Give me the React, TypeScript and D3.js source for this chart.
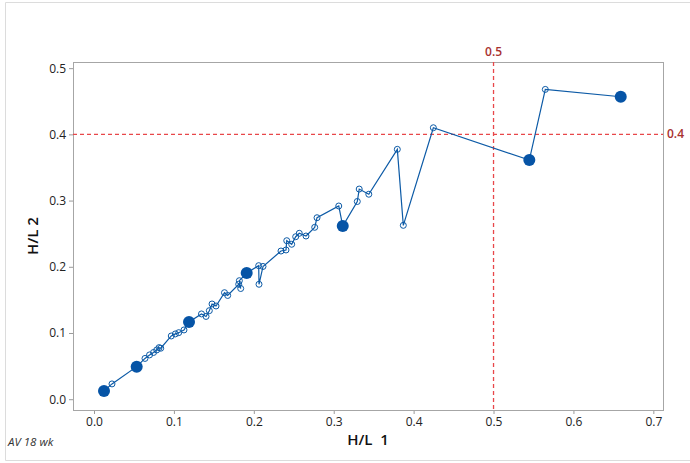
import React, { useEffect, useRef } from 'react';
import * as d3 from 'd3';

// H/L 1 vs H/L 2, in time order
const hl1 = [0.0125, 0.0225, 0.0534, 0.0638, 0.0695, 0.0745, 0.0785, 0.0814, 0.0835, 0.0967,
  0.1018, 0.106, 0.1126, 0.1189, 0.1345, 0.1402, 0.1443, 0.1477, 0.1527, 0.1633,
  0.1673, 0.1811, 0.1836, 0.1819, 0.1911, 0.2061, 0.2065, 0.2115, 0.234, 0.2403,
  0.2412, 0.2474, 0.2524, 0.2569, 0.2653, 0.2762, 0.2791, 0.3063, 0.3113, 0.3295,
  0.3319, 0.3439, 0.3796, 0.3871, 0.4247, 0.5448, 0.5648, 0.6592];
const hl2 = [0.0125, 0.0231, 0.0492, 0.0616, 0.0669, 0.0706, 0.0744, 0.0779, 0.077, 0.0955,
  0.0986, 0.1005, 0.1046, 0.1167, 0.1288, 0.125, 0.1337, 0.1438, 0.1408, 0.1609,
  0.1567, 0.1736, 0.1672, 0.179, 0.1906, 0.2017, 0.1736, 0.2005, 0.2238, 0.2254,
  0.2394, 0.234, 0.2454, 0.2506, 0.2465, 0.2596, 0.2741, 0.2918, 0.2616, 0.2986,
  0.3174, 0.3096, 0.3774, 0.2626, 0.41, 0.3612, 0.4679, 0.4568];
// points drawn as big filled dots
const bigIdx = [0, 2, 13, 24, 38, 45, 47];
const xTicks = [0, 0.1, 0.2, 0.3, 0.4, 0.5, 0.6, 0.7];
const yTicks = [0, 0.1, 0.2, 0.3, 0.4, 0.5];
const refX = 0.5;
const refY = 0.4;

const W = 690, H = 463;
const blue = '#0c5aa6';
const red = '#e8474a';
const darkRed = '#a8312f';
const font = '"Open Sans", "Noto Sans", sans-serif';

export default function App() {
  const ref = useRef<SVGSVGElement>(null);

  useEffect(() => {
    const svg = d3.select(ref.current);
    svg.selectAll('*').remove();

    const left = 73, right = 663, top = 62, bottom = 410;
    const x = d3.scaleLinear().domain([-0.0263, 0.7121]).range([left, right]);
    const y = d3.scaleLinear().domain([-0.0163, 0.5093]).range([bottom, top]);

    // outer border
    svg.append('path')
      .attr('d', `M${W},2.5 H5.5 V460.5 H${W}`)
      .attr('fill', 'none').attr('stroke', '#dcdcdc');

    // axes
    const xAxis = svg.append('g').attr('transform', `translate(0,${bottom})`)
      .call(d3.axisBottom(x).tickValues(xTicks).tickFormat(d3.format('.1f')).tickSize(4).tickPadding(3));
    const yAxis = svg.append('g').attr('transform', `translate(${left},0)`)
      .call(d3.axisLeft(y).tickValues(yTicks).tickFormat(d3.format('.1f')).tickSize(4).tickPadding(3));
    [xAxis, yAxis].forEach(g => {
      g.select('.domain').remove();
      g.selectAll('line').attr('stroke', '#9a9a9a');
      g.selectAll('text').attr('font-family', font).attr('font-size', 12).attr('fill', '#222');
    });

    svg.append('rect')
      .attr('x', left + 0.5).attr('y', top + 0.5)
      .attr('width', right - left).attr('height', bottom - top)
      .attr('fill', 'none').attr('stroke', '#a6a6a6');

    // reference lines
    svg.append('line')
      .attr('x1', x(refX)).attr('x2', x(refX)).attr('y1', top).attr('y2', bottom)
      .attr('stroke', red).attr('stroke-width', 1.3).attr('stroke-dasharray', '4,3');
    svg.append('line')
      .attr('x1', left).attr('x2', right).attr('y1', y(refY)).attr('y2', y(refY))
      .attr('stroke', red).attr('stroke-width', 1.3).attr('stroke-dasharray', '4,3');
    svg.append('text')
      .attr('x', x(refX)).attr('y', top - 6).attr('text-anchor', 'middle')
      .attr('font-family', font).attr('font-size', 12).attr('font-weight', 600).attr('fill', darkRed)
      .text(d3.format('.1f')(refX));
    svg.append('text')
      .attr('x', right + 4).attr('y', y(refY) + 4)
      .attr('font-family', font).attr('font-size', 12).attr('font-weight', 600).attr('fill', darkRed)
      .text(d3.format('.1f')(refY));

    const pts = hl1.map((v, i) => ({ x: v, y: hl2[i], big: bigIdx.includes(i) }));

    const line = d3.line<{ x: number; y: number }>().x(d => x(d.x)).y(d => y(d.y));
    svg.append('path').datum(pts).attr('d', line)
      .attr('fill', 'none').attr('stroke', blue).attr('stroke-width', 1.2);

    svg.selectAll('circle.small').data(pts.filter(d => !d.big)).enter()
      .append('circle').attr('class', 'small')
      .attr('cx', d => x(d.x)).attr('cy', d => y(d.y)).attr('r', 3)
      .attr('fill', 'none').attr('stroke', blue).attr('stroke-width', 1);
    svg.selectAll('circle.big').data(pts.filter(d => d.big)).enter()
      .append('circle').attr('class', 'big')
      .attr('cx', d => x(d.x)).attr('cy', d => y(d.y)).attr('r', 6)
      .attr('fill', '#0654a6');

    // titles
    svg.append('text')
      .attr('x', (left + right) / 2).attr('y', 445).attr('text-anchor', 'middle')
      .attr('font-family', font).attr('font-size', 15).attr('font-weight', 600).attr('fill', '#111')
      .style('white-space', 'pre').text('H/L  1');
    svg.append('text')
      .attr('transform', `translate(38,${(top + bottom) / 2}) rotate(-90)`).attr('text-anchor', 'middle')
      .attr('font-family', font).attr('font-size', 15).attr('font-weight', 600).attr('fill', '#111')
      .text('H/L 2');
    svg.append('text')
      .attr('x', 8).attr('y', 446)
      .attr('font-family', font).attr('font-size', 11.5).attr('font-style', 'italic')
      .attr('fill', '#333')
      .text('AV 18 wk');
  }, []);

  return (
    <svg ref={ref} width={W} height={H} viewBox={`0 0 ${W} ${H}`}
      style={{ position: 'absolute', left: 0, top: 0, background: '#fff' }} />
  );
}
